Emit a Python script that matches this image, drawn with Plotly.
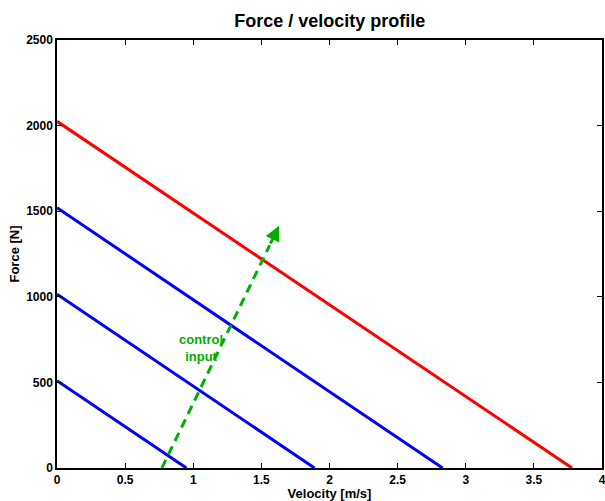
import plotly.graph_objects as go

# Force/velocity profile lines: (velocity, force) endpoints
red_velocity = [0.0, 3.78]
red_force = [2025, 0]
blue_intercepts_force = [1520, 1015, 510]
blue_intercepts_velocity = [2.83, 1.89, 0.95]

arrow_start = (0.77, 0)
arrow_tip = (1.63, 1415)
arrow_label = "control<br>input"
label_pos = (1.06, 700)

x_ticks = [0, 0.5, 1, 1.5, 2, 2.5, 3, 3.5, 4]
x_tick_text = ["0", "0.5", "1", "1.5", "2", "2.5", "3", "3.5", "4"]
y_ticks = [0, 500, 1000, 1500, 2000, 2500]

GREEN = "rgb(0,175,0)"
FONT = "Liberation Sans, Arial, sans-serif"

fig = go.Figure()

for f0, v0 in zip(blue_intercepts_force, blue_intercepts_velocity):
    fig.add_trace(go.Scatter(x=[0, v0], y=[f0, 0], mode="lines",
                             line=dict(color="rgb(0,0,255)", width=3),
                             showlegend=False, hoverinfo="skip"))

fig.add_trace(go.Scatter(x=red_velocity, y=red_force, mode="lines",
                         line=dict(color="rgb(255,0,0)", width=3),
                         showlegend=False, hoverinfo="skip"))

# dashed shaft of the arrow (stops short of the head)
frac = 0.92
shaft_end = (arrow_start[0] + frac * (arrow_tip[0] - arrow_start[0]),
             arrow_start[1] + frac * (arrow_tip[1] - arrow_start[1]))
fig.add_trace(go.Scatter(x=[arrow_start[0], shaft_end[0]],
                         y=[arrow_start[1], shaft_end[1]], mode="lines",
                         line=dict(color=GREEN, width=3, dash="9px,6px"),
                         showlegend=False, hoverinfo="skip"))

fig.add_annotation(x=arrow_tip[0], y=arrow_tip[1], xref="x", yref="y",
                   ax=shaft_end[0], ay=shaft_end[1], axref="x", ayref="y",
                   showarrow=True, arrowhead=2, arrowsize=1.0, arrowwidth=3,
                   arrowcolor=GREEN, text="")

fig.add_annotation(x=label_pos[0], y=label_pos[1], xref="x", yref="y",
                   text=arrow_label, showarrow=False,
                   font=dict(family=FONT, size=13, color=GREEN, weight="bold"),
                   align="center")

axis_common = dict(showline=True, linecolor="black", linewidth=1.5,
                   mirror="ticks", ticks="inside", ticklen=5,
                   tickcolor="black", showgrid=False, zeroline=False,
                   automargin=False, ticklabeloverflow="allow",
                   tickfont=dict(family=FONT, size=12, color="black",
                                 weight="bold"))

fig.update_xaxes(range=[0, 4], tickvals=x_ticks, ticktext=x_tick_text,
                 title=dict(text="<b>Velocity [m/s]</b>",
                            font=dict(family=FONT, size=13, color="black"),
                            standoff=0),
                 **axis_common)
fig.update_yaxes(range=[0, 2500], tickvals=y_ticks,
                 title=dict(text="<b>Force [N]</b>",
                            font=dict(family=FONT, size=13, color="black"),
                            standoff=4),
                 **axis_common)

fig.update_layout(
    width=605, height=501,
    margin=dict(l=57, r=3, t=40, b=33),
    plot_bgcolor="white", paper_bgcolor="white",
    title=dict(text="<b>Force / velocity profile</b>", x=0.545, xanchor="center",
               y=0.958, yanchor="middle",
               font=dict(family=FONT, size=18, color="black")),
)

fig.write_html("out.html", config={"displayModeBar": False},
               post_script="document.body.style.margin='0';"
                           "document.body.style.overflow='hidden';")
